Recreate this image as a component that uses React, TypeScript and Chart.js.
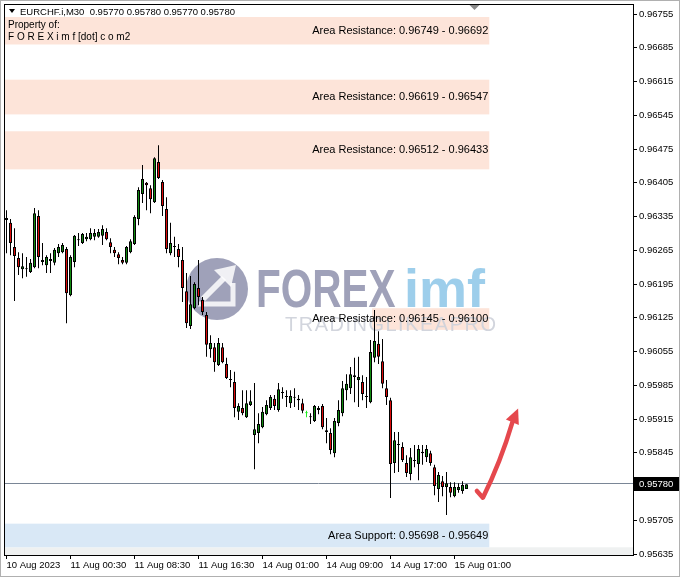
import React, { useEffect, useRef } from 'react';
import { Chart, registerables } from 'chart.js';

Chart.register(...registerables);

// ---------------- data ----------------
const symbolName = 'EURCHF.i,M30';

const opens = [
  0.96332, 0.96322, 0.96272, 0.96249, 0.96226, 0.96226, 0.96220, 0.96230, 0.96336, 0.96245,
  0.96234, 0.96243, 0.96239, 0.96259, 0.96261, 0.96268, 0.96172, 0.96241, 0.96286, 0.96280,
  0.96288, 0.96288, 0.96293, 0.96293, 0.96295, 0.96303, 0.96282, 0.96266, 0.96257, 0.96245,
  0.96239, 0.96261, 0.96278, 0.96330, 0.96382, 0.96405, 0.96394, 0.96365, 0.96448, 0.96407,
  0.96351, 0.96259, 0.96274, 0.96268, 0.96245, 0.96180, 0.96108, 0.96145, 0.96187, 0.96162,
  0.96131, 0.96060, 0.96064, 0.96027, 0.96064, 0.96029, 0.95998, 0.95992, 0.95930, 0.95938,
  0.95919, 0.95944, 0.95882, 0.95886, 0.95898, 0.95925, 0.95938, 0.95957, 0.95934, 0.95971,
  0.95963, 0.95948, 0.95959, 0.95957, 0.95948, 0.95927, 0.95921, 0.95911, 0.95938, 0.95942,
  0.95892, 0.95886, 0.95844, 0.95907, 0.95927, 0.95975, 0.95979, 0.96002, 0.95996, 0.95992,
  0.95963, 0.95950, 0.96042, 0.96071, 0.96035, 0.95979, 0.95954, 0.95824, 0.95861, 0.95857,
  0.95824, 0.95801, 0.95830, 0.95822, 0.95847, 0.95836, 0.95844, 0.95815, 0.95770, 0.95786,
  0.95774, 0.95774, 0.95755, 0.95768, 0.95766, 0.95770,
];
const highs = [
  0.96348, 0.96330, 0.96311, 0.96261, 0.96259, 0.96251, 0.96247, 0.96353, 0.96348, 0.96280,
  0.96255, 0.96259, 0.96270, 0.96278, 0.96280, 0.96272, 0.96255, 0.96297, 0.96301, 0.96301,
  0.96301, 0.96311, 0.96309, 0.96309, 0.96317, 0.96311, 0.96290, 0.96272, 0.96261, 0.96251,
  0.96274, 0.96288, 0.96338, 0.96396, 0.96442, 0.96407, 0.96400, 0.96458, 0.96483, 0.96411,
  0.96375, 0.96322, 0.96293, 0.96278, 0.96272, 0.96218, 0.96212, 0.96199, 0.96245, 0.96168,
  0.96137, 0.96089, 0.96073, 0.96083, 0.96073, 0.96042, 0.96017, 0.96013, 0.95948, 0.95975,
  0.95975, 0.95975, 0.95990, 0.95927, 0.95940, 0.95954, 0.95965, 0.95965, 0.95990, 0.95981,
  0.95975, 0.95975, 0.95979, 0.95965, 0.95957, 0.95932, 0.95927, 0.95944, 0.95942, 0.95946,
  0.95917, 0.95896, 0.95917, 0.95954, 0.95994, 0.96008, 0.96023, 0.96042, 0.96044, 0.96006,
  0.96002, 0.96079, 0.96141, 0.96097, 0.96081, 0.95996, 0.95959, 0.95888, 0.95888, 0.95867,
  0.95840, 0.95855, 0.95861, 0.95861, 0.95861, 0.95861, 0.95849, 0.95820, 0.95805, 0.95797,
  0.95805, 0.95784, 0.95784, 0.95782, 0.95786, 0.95780,
];
const lows = [
  0.96259, 0.96255, 0.96160, 0.96214, 0.96207, 0.96210, 0.96218, 0.96228, 0.96228, 0.96234,
  0.96218, 0.96218, 0.96234, 0.96251, 0.96259, 0.96114, 0.96170, 0.96230, 0.96274, 0.96278,
  0.96284, 0.96286, 0.96286, 0.96291, 0.96276, 0.96286, 0.96259, 0.96251, 0.96236, 0.96236,
  0.96236, 0.96259, 0.96276, 0.96317, 0.96363, 0.96348, 0.96342, 0.96363, 0.96413, 0.96336,
  0.96259, 0.96255, 0.96251, 0.96230, 0.96158, 0.96104, 0.96102, 0.96143, 0.96151, 0.96131,
  0.96044, 0.96042, 0.96013, 0.96025, 0.96031, 0.95998, 0.95981, 0.95919, 0.95913, 0.95923,
  0.95917, 0.95942, 0.95811, 0.95865, 0.95896, 0.95923, 0.95934, 0.95934, 0.95930, 0.95957,
  0.95940, 0.95938, 0.95940, 0.95934, 0.95927, 0.95919, 0.95905, 0.95909, 0.95925, 0.95894,
  0.95865, 0.95842, 0.95836, 0.95900, 0.95921, 0.95954, 0.95967, 0.95950, 0.95940, 0.95954,
  0.95938, 0.95948, 0.96033, 0.96029, 0.95979, 0.95944, 0.95751, 0.95803, 0.95805, 0.95826,
  0.95795, 0.95788, 0.95815, 0.95788, 0.95820, 0.95826, 0.95818, 0.95757, 0.95743, 0.95755,
  0.95716, 0.95753, 0.95753, 0.95762, 0.95760, 0.95770,
];
const closes = [
  0.96328, 0.96280, 0.96253, 0.96230, 0.96232, 0.96227, 0.96239, 0.96342, 0.96251, 0.96241,
  0.96251, 0.96247, 0.96266, 0.96272, 0.96276, 0.96176, 0.96251, 0.96295, 0.96288, 0.96299,
  0.96293, 0.96301, 0.96301, 0.96303, 0.96309, 0.96288, 0.96272, 0.96259, 0.96249, 0.96239,
  0.96272, 0.96284, 0.96334, 0.96390, 0.96413, 0.96400, 0.96371, 0.96456, 0.96415, 0.96357,
  0.96268, 0.96280, 0.96272, 0.96251, 0.96187, 0.96114, 0.96153, 0.96195, 0.96168, 0.96137,
  0.96069, 0.96073, 0.96033, 0.96073, 0.96033, 0.96000, 0.95996, 0.95938, 0.95942, 0.95927,
  0.95948, 0.95952, 0.95894, 0.95905, 0.95930, 0.95944, 0.95961, 0.95942, 0.95977, 0.95969,
  0.95961, 0.95963, 0.95961, 0.95954, 0.95932, 0.95927, 0.95919, 0.95942, 0.95934, 0.95898,
  0.95888, 0.95851, 0.95911, 0.95934, 0.95979, 0.95988, 0.96008, 0.96006, 0.96002, 0.95967,
  0.95961, 0.96054, 0.96077, 0.96044, 0.95988, 0.95961, 0.95822, 0.95871, 0.95863, 0.95830,
  0.95803, 0.95836, 0.95828, 0.95853, 0.95844, 0.95853, 0.95824, 0.95776, 0.95799, 0.95774,
  0.95782, 0.95762, 0.95774, 0.95774, 0.95778, 0.95780,
];

const xTickIndex = [0, 16, 32, 48, 64, 80, 96, 112];
const xTickLabels = [
  '10 Aug 2023', '11 Aug 00:30', '11 Aug 08:30', '11 Aug 16:30',
  '14 Aug 01:00', '14 Aug 09:00', '14 Aug 17:00', '15 Aug 01:00',
];
const yTickValues = [
  0.96755, 0.96685, 0.96615, 0.96545, 0.96475, 0.96405, 0.96335, 0.96265, 0.96195,
  0.96125, 0.96055, 0.95985, 0.95915, 0.95845, 0.95705, 0.95635,
];

const zoneKinds = ['Resistance', 'Resistance', 'Resistance', 'Resistance', 'Support'];
const zoneHigh = [0.96749, 0.96619, 0.96512, 0.96145, 0.95698];
const zoneLow = [0.96692, 0.96547, 0.96433, 0.96100, 0.95649];
const zoneStartBar = [-3, -3, -3, 91.4, -3];
const zoneEndBar = [120.7, 120.7, 120.7, 120.7, 120.7];
const lowerBandTop = 0.95649;

const arrowBars = [117.6, 119.1, 126.3, 127.9];
const arrowPrices = [0.95766, 0.95752, 0.95905, 0.95937];

// ---------------- style ----------------
const FONT = '"Liberation Sans", Arial, sans-serif';
const BULL = '#0f8a0f';
const BEAR = '#dc0a0a';
const DOJI = '#22ee22';
const RESIST_FILL = 'rgb(253,228,217)';
const SUPPORT_FILL = 'rgb(217,232,246)';
const BAND_FILL = 'rgb(239,241,241)';
const X_MIN = -0.625;
const X_MAX = X_MIN + 629 / 4;
const Y_MIN = 0.95633;
const Y_MAX = 0.96776;

const bodyColors = opens.map((o, i) => (closes[i] > o ? BULL : closes[i] < o ? BEAR : DOJI));
const bodyBorders = opens.map((o, i) => (closes[i] === o ? DOJI : '#000'));

function drawWatermark(ctx: CanvasRenderingContext2D) {
  ctx.save();
  ctx.globalAlpha = 0.85;
  ctx.fillStyle = '#8e90ad';
  ctx.beginPath();
  ctx.arc(217, 289, 31, 0, Math.PI * 2);
  ctx.fill();
  ctx.strokeStyle = '#ffffff';
  ctx.fillStyle = '#ffffff';
  ctx.lineWidth = 5;
  ctx.lineCap = 'butt';
  ctx.beginPath();
  ctx.moveTo(198, 304);
  ctx.lineTo(233, 304);
  ctx.lineTo(233, 283);
  ctx.stroke();
  ctx.lineWidth = 6;
  ctx.beginPath();
  ctx.moveTo(203, 299);
  ctx.lineTo(224, 278);
  ctx.stroke();
  ctx.beginPath();
  ctx.moveTo(236, 265);
  ctx.lineTo(214, 270);
  ctx.lineTo(231, 287);
  ctx.closePath();
  ctx.fill();

  ctx.fillStyle = '#8e90ad';
  ctx.font = `bold 54px ${FONT}`;
  ctx.textBaseline = 'alphabetic';
  ctx.textAlign = 'left';
  ctx.save();
  ctx.translate(256, 307);
  ctx.scale(0.75, 1);
  ctx.fillText('FOREX', 0, 0);
  ctx.restore();
  ctx.fillStyle = '#8cc6e8';
  ctx.fillText('imf', 404, 307);

  ctx.globalAlpha = 0.9;
  ctx.fillStyle = '#cdd0d9';
  ctx.font = `20px ${FONT}`;
  (ctx as any).letterSpacing = '1.5px';
  ctx.fillText('TRADINGLIKEAPRO', 285, 331);
  (ctx as any).letterSpacing = '0px';
  ctx.restore();
}

const overlayPlugin = {
  id: 'mtOverlay',
  beforeDatasetsDraw(chart: any) {
    const { ctx, chartArea: a, scales } = chart;
    const xs = scales.x;
    const ys = scales.y;
    ctx.save();
    const bandY = ys.getPixelForValue(lowerBandTop);
    ctx.fillStyle = BAND_FILL;
    ctx.fillRect(a.left, bandY, a.right - a.left, a.bottom - bandY);
    zoneHigh.forEach((hi, k) => {
      const x0 = Math.max(a.left, xs.getPixelForValue(zoneStartBar[k]));
      const x1 = xs.getPixelForValue(zoneEndBar[k]);
      const y0 = ys.getPixelForValue(hi);
      const y1 = ys.getPixelForValue(zoneLow[k]);
      ctx.fillStyle = zoneKinds[k] === 'Support' ? SUPPORT_FILL : RESIST_FILL;
      ctx.fillRect(x0, y0, x1 - x0, y1 - y0);
    });
    drawWatermark(ctx);
    const py = Math.round(ys.getPixelForValue(closes[closes.length - 1])) - 0.5;
    ctx.strokeStyle = '#7a8696';
    ctx.lineWidth = 1;
    ctx.beginPath();
    ctx.moveTo(a.left, py);
    ctx.lineTo(a.right, py);
    ctx.stroke();
    ctx.restore();
  },
  afterDatasetsDraw(chart: any) {
    const { ctx, scales } = chart;
    const xs = scales.x;
    const ys = scales.y;
    ctx.save();
    ctx.font = `11px ${FONT}`;
    ctx.fillStyle = '#000';
    ctx.textAlign = 'right';
    ctx.textBaseline = 'middle';
    zoneHigh.forEach((hi, k) => {
      const x1 = xs.getPixelForValue(zoneEndBar[k]) - 1;
      const ym = (ys.getPixelForValue(hi) + ys.getPixelForValue(zoneLow[k])) / 2;
      ctx.fillText(`Area ${zoneKinds[k]}: ${hi.toFixed(5)} - ${zoneLow[k].toFixed(5)}`, x1, ym);
    });
    const P = arrowBars.map((b, i) => [xs.getPixelForValue(b), ys.getPixelForValue(arrowPrices[i])]);
    ctx.strokeStyle = '#e5484d';
    ctx.fillStyle = '#e5484d';
    ctx.lineWidth = 4.5;
    ctx.lineCap = 'round';
    ctx.lineJoin = 'round';
    const tip = P[3];
    const dx = tip[0] - P[2][0];
    const dy = tip[1] - P[2][1];
    const len = Math.hypot(dx, dy);
    const ux = dx / len;
    const uy = dy / len;
    const bx = tip[0] - ux * 15;
    const by = tip[1] - uy * 15;
    ctx.beginPath();
    ctx.moveTo(P[0][0], P[0][1]);
    ctx.lineTo(P[1][0], P[1][1]);
    ctx.quadraticCurveTo((P[1][0] + bx) / 2 + 3, (P[1][1] + by) / 2 + 2, bx, by);
    ctx.stroke();
    ctx.beginPath();
    ctx.moveTo(tip[0], tip[1]);
    ctx.lineTo(bx - uy * 7, by + ux * 7);
    ctx.lineTo(bx + uy * 7, by - ux * 7);
    ctx.closePath();
    ctx.fill();
    ctx.restore();
  },
  afterDraw(chart: any) {
    const { ctx, chartArea: a, scales, width, height } = chart;
    const ys = scales.y;
    const xs = scales.x;
    ctx.save();
    ctx.strokeStyle = '#b0b0b0';
    ctx.lineWidth = 1;
    ctx.strokeRect(0.5, 0.5, width - 2, height - 3);
    ctx.strokeStyle = '#000';
    ctx.strokeRect(a.left + 0.5, a.top + 0.5, a.right - a.left, a.bottom - a.top);
    const sx = xs.getPixelForValue(117);
    ctx.fillStyle = '#8a8a8a';
    ctx.beginPath();
    ctx.moveTo(sx - 5, a.top + 1);
    ctx.lineTo(sx + 5, a.top + 1);
    ctx.lineTo(sx, a.top + 6);
    ctx.closePath();
    ctx.fill();
    const last = closes.length - 1;
    ctx.fillStyle = '#000';
    ctx.beginPath();
    ctx.moveTo(9, 9);
    ctx.lineTo(15, 9);
    ctx.lineTo(12, 13);
    ctx.closePath();
    ctx.fill();
    ctx.font = `9.5px ${FONT}`;
    ctx.textAlign = 'left';
    ctx.textBaseline = 'middle';
    ctx.fillText(
      `${symbolName}  ${opens[last].toFixed(5)} ${highs[last].toFixed(5)} ${lows[last].toFixed(5)} ${closes[last].toFixed(5)}`,
      20, 12,
    );
    ctx.font = `10px ${FONT}`;
    ctx.fillText('Property of:', 8, 25);
    ctx.fillText('F O R E X i m f [dot] c o m2', 8, 37);
    const py = Math.round(ys.getPixelForValue(closes[last]));
    ctx.fillStyle = '#000';
    ctx.fillRect(a.right + 1, py - 7, 45, 14);
    ctx.fillStyle = '#fff';
    ctx.font = `9.5px ${FONT}`;
    ctx.fillText(closes[last].toFixed(5), a.right + 6, py + 0.5);
    ctx.restore();
  },
};

export default function App() {
  const canvasRef = useRef<HTMLCanvasElement | null>(null);

  useEffect(() => {
    const canvas = canvasRef.current;
    if (!canvas) return;
    Chart.defaults.font.family = FONT;
    Chart.defaults.color = '#000';

    const chart = new Chart(canvas, {
      type: 'bar',
      data: {
        datasets: [
          {
            label: 'body',
            data: opens.map((o, i) => ({ x: i, y: [o, closes[i]] })) as any,
            backgroundColor: bodyColors,
            borderColor: bodyBorders,
            borderWidth: 1,
            borderSkipped: false,
            barThickness: 3,
            minBarLength: 1,
            grouped: false,
            inflateAmount: 0,
            order: 0,
          },
          {
            label: 'wick',
            data: lows.map((l, i) => ({ x: i, y: [l, highs[i]] })) as any,
            backgroundColor: bodyBorders,
            borderWidth: 0,
            barThickness: 1,
            grouped: false,
            inflateAmount: 0,
            order: 1,
          },
        ],
      },
      options: {
        responsive: false,
        animation: false,
        events: [],
        layout: { padding: { left: 4, top: 4, right: 0, bottom: 0 } },
        plugins: {
          legend: { display: false },
          tooltip: { enabled: false },
        },
        scales: {
          x: {
            type: 'linear',
            min: X_MIN,
            max: X_MAX,
            offset: false,
            border: { display: false },
            grid: { drawOnChartArea: false, drawTicks: true, tickLength: 4, color: '#000', offset: false },
            afterBuildTicks: (s: any) => {
              s.ticks = xTickIndex.map((v) => ({ value: v }));
            },
            afterFit: (s: any) => {
              s.height = 24;
              s.paddingLeft = 0;
              s.paddingRight = 0;
            },
            ticks: {
              autoSkip: false,
              maxRotation: 0,
              minRotation: 0,
              align: 'start',
              padding: 1,
              color: '#000',
              font: { family: FONT, size: 9.5 },
              callback: (v: any) => {
                const k = xTickIndex.indexOf(Number(v));
                return k >= 0 ? xTickLabels[k] : '';
              },
            },
          },
          y: {
            type: 'linear',
            position: 'right',
            min: Y_MIN,
            max: Y_MAX,
            border: { display: false },
            grid: { drawOnChartArea: false, drawTicks: true, tickLength: 4, color: '#000' },
            afterBuildTicks: (s: any) => {
              s.ticks = yTickValues.map((v) => ({ value: v }));
            },
            afterFit: (s: any) => {
              s.width = 48;
              s.paddingTop = 0;
              s.paddingBottom = 0;
            },
            ticks: {
              padding: 2,
              color: '#000',
              font: { family: FONT, size: 9.5 },
              callback: (v: any) => Number(v).toFixed(5),
            },
          },
        },
      } as any,
      plugins: [overlayPlugin],
    });
    return () => chart.destroy();
  }, []);

  return (
    <div style={{ position: 'fixed', left: 0, top: 0, width: 681, height: 579, background: '#fff' }}>
      <canvas ref={canvasRef} width={681} height={579} style={{ display: 'block' }} />
    </div>
  );
}
